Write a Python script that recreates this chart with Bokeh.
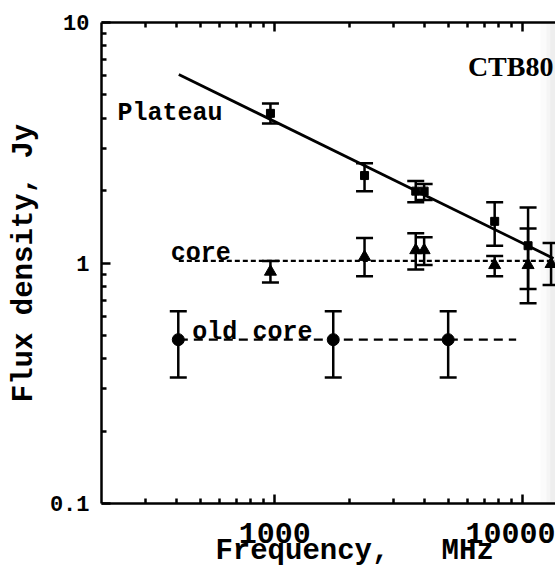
from bokeh.plotting import figure
from bokeh.models import (ColumnDataSource, Whisker, TeeHead, Label, LogAxis,
                          FixedTicker, BoxAnnotation)
from bokeh.embed import file_html
from bokeh.resources import INLINE

# ---- data ----
plateau_freq = [960, 2300, 3700, 4000, 7700, 10500]
plateau_flux = [4.19, 2.31, 1.99, 1.99, 1.49, 1.18]
plateau_lo = [3.80, 1.99, 1.79, 1.83, 1.18, 0.78]
plateau_hi = [4.60, 2.60, 2.19, 2.13, 1.79, 1.70]

core_freq = [960, 2300, 3700, 4000, 7700, 10500, 13000]
core_flux = [0.92, 1.06, 1.13, 1.13, 0.98, 0.98, 0.99]
core_lo = [0.83, 0.88, 0.94, 0.98, 0.88, 0.68, 0.81]
core_hi = [1.02, 1.27, 1.33, 1.28, 1.07, 1.39, 1.21]

old_core_freq = [408, 1720, 5000]
old_core_flux = [0.48, 0.48, 0.48]
old_core_lo = [0.334, 0.334, 0.334]
old_core_hi = [0.63, 0.63, 0.63]

plateau_fit_freq = [410, 13300]
plateau_fit_flux = [6.08, 1.045]
core_level_freq = [410, 13545]
core_level_flux = [1.02, 1.02]
old_core_level_freq = [410, 9400]
old_core_level_flux = [0.48, 0.48]

x_major = [1000, 10000]
x_minor = [300, 400, 500, 600, 700, 800, 900,
           2000, 3000, 4000, 5000, 6000, 7000, 8000, 9000]
x_tick_labels = ["1000", "10000"]
y_major = [0.1, 1, 10]
y_minor = [0.2, 0.3, 0.4, 0.5, 0.6, 0.7, 0.8, 0.9,
           2, 3, 4, 5, 6, 7, 8, 9]
y_tick_labels = ["0.1", "1", "10"]

MONO = "Liberation Mono"
SERIF = "Liberation Serif"
NB = "\u00a0"

p = figure(width=555, height=570, x_axis_type="log", y_axis_type="log",
           x_range=(200, 13545), y_range=(0.1, 10),
           output_backend="svg", toolbar_location=None,
           min_border_left=101, min_border_right=0,
           min_border_top=22, min_border_bottom=67)
p.grid.visible = False
p.outline_line_color = None
p.background_fill_color = "white"
p.border_fill_color = "white"

# faint scan shading at the right edge
for left, a in [(11780, 0.04), (12450, 0.05), (12910, 0.06)]:
    p.add_layout(BoxAnnotation(left=left, right=13545, fill_color="#909090",
                               fill_alpha=a, line_color=None, level="underlay"))

xt = FixedTicker(ticks=x_major, minor_ticks=x_minor)
yt = FixedTicker(ticks=y_major, minor_ticks=y_minor)

xa = p.xaxis[0]
xa.ticker = xt
xa.major_label_overrides = {v: s for v, s in zip(x_major, x_tick_labels)}
ya = p.yaxis[0]
ya.ticker = yt
ya.major_label_overrides = {v: s for v, s in zip(y_major, y_tick_labels)}

for ax in (xa, ya):
    ax.axis_line_width = 2.5
    ax.axis_line_color = "black"
    ax.major_tick_line_width = 2.5
    ax.minor_tick_line_width = 2.5
    ax.major_tick_in = 9
    ax.major_tick_out = 0
    ax.minor_tick_in = 5
    ax.minor_tick_out = 0
    ax.major_label_text_font = MONO
    ax.major_label_text_font_style = "bold"
    ax.major_label_text_color = "black"
    ax.axis_label_text_font = MONO
    ax.axis_label_text_font_style = "bold"
    ax.axis_label_text_color = "black"

xa.major_label_text_font_size = "30px"
xa.major_label_standoff = 19
xa.axis_label = NB * 3 + "Frequency," + NB * 3 + "MHz"
xa.axis_label_text_font_size = "29px"
xa.axis_label_standoff = -11

ya.major_label_text_font_size = "22px"
ya.major_label_standoff = 12
ya.axis_label = "Flux density, Jy"
ya.axis_label_text_font_size = "29px"
ya.axis_label_standoff = 6

top = LogAxis(ticker=FixedTicker(ticks=x_major, minor_ticks=x_minor),
              axis_line_width=2.5, major_tick_line_width=2.5,
              minor_tick_line_width=2.5, major_tick_in=9, major_tick_out=0,
              minor_tick_in=5, minor_tick_out=0,
              major_label_text_font_size="0px", major_label_standoff=0,
              major_label_overrides={v: "" for v in x_major})
p.add_layout(top, "above")

# lines
p.line(plateau_fit_freq, plateau_fit_flux, line_color="black", line_width=2.8)
p.line(core_level_freq, core_level_flux, line_color="black", line_width=2.3,
       line_dash="5 3")
p.line(old_core_level_freq, old_core_level_flux, line_color="black",
       line_width=2.3, line_dash="9 6")

def errorbars(f, lo, hi):
    src = ColumnDataSource(dict(base=f, lower=lo, upper=hi))
    w = Whisker(source=src, base="base", lower="lower", upper="upper",
                dimension="height", line_color="black", line_width=2.5,
                upper_head=TeeHead(size=17, line_width=2.5, line_color="black"),
                lower_head=TeeHead(size=17, line_width=2.5, line_color="black"))
    p.add_layout(w)

errorbars(plateau_freq, plateau_lo, plateau_hi)
errorbars(core_freq, core_lo, core_hi)
errorbars(old_core_freq, old_core_lo, old_core_hi)

p.scatter(plateau_freq, plateau_flux, marker="square", size=8,
          fill_color="black", line_color="black")
p.scatter(core_freq, core_flux, marker="triangle", size=12,
          fill_color="black", line_color="black")
p.scatter(old_core_freq, old_core_flux, marker="circle", size=12,
          fill_color="black", line_color="black")

def label(x, y, text, font, size, align="left"):
    p.add_layout(Label(x=x, y=y, text=text, text_font=font,
                       text_font_size=size, text_font_style="bold",
                       text_color="black", text_align=align,
                       text_baseline="alphabetic"))

label(232, 4.19, "Plateau", MONO, "25px")
label(380, 1.095, "core", MONO, "25px")
label(465, 0.515, "old core", MONO, "25px")
label(13290, 6.56, "CTB80", SERIF, "28px", align="right")

open("out.html", "w").write(file_html(p, INLINE))
